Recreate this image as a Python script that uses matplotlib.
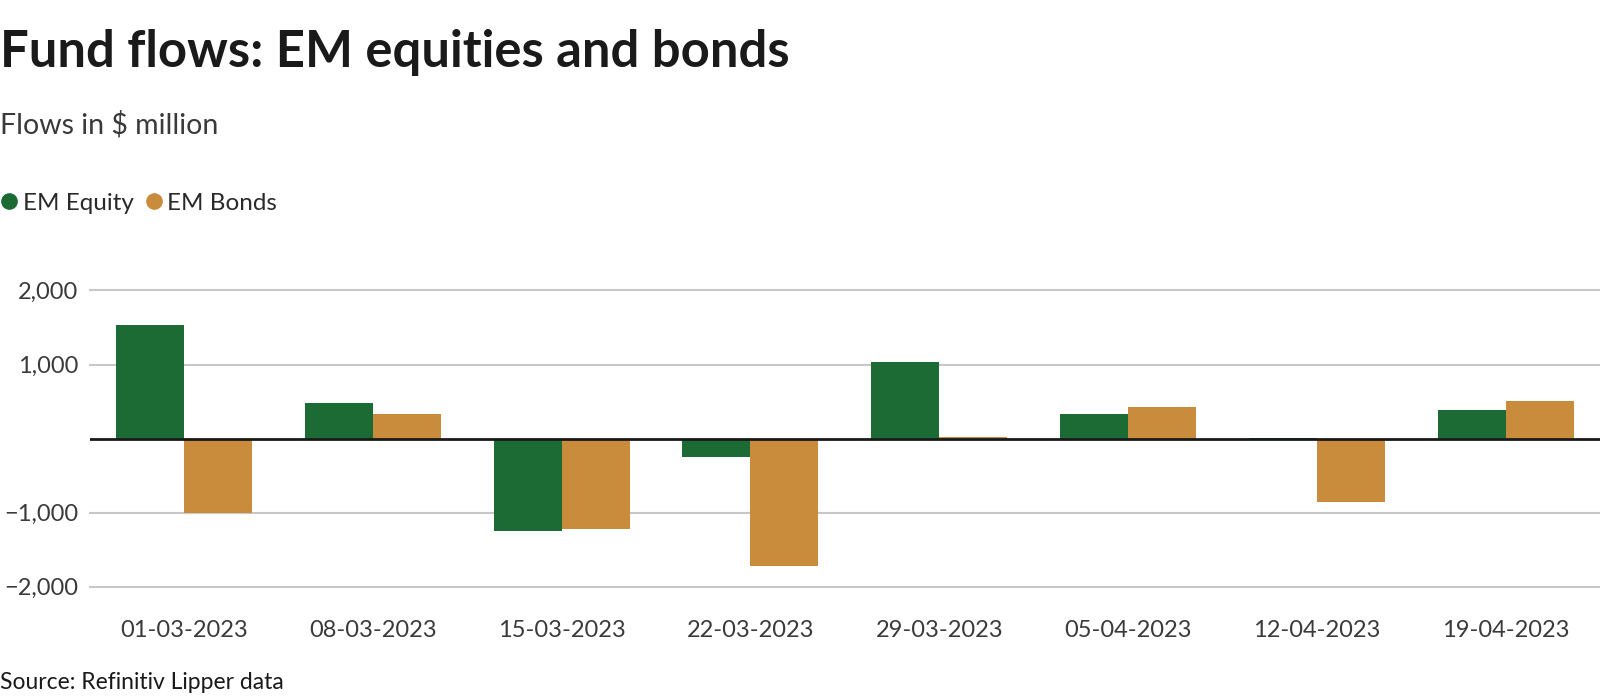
import numpy as np
import matplotlib.pyplot as plt
from matplotlib.lines import Line2D

dates = ["01-03-2023", "08-03-2023", "15-03-2023", "22-03-2023",
         "29-03-2023", "05-04-2023", "12-04-2023", "19-04-2023"]
em_equity = [1530, 485, -1248, -243, 1035, 325, 5, 382]
em_bonds = [-1000, 332, -1220, -1715, 22, 420, -852, 508]
yticks = [-2000, -1000, 1000, 2000]

green = "#1d6b34"
gold = "#c98c3c"

plt.rcParams['font.family'] = ['Lato', 'DejaVu Sans']

fig = plt.figure(figsize=(16, 7), dpi=100)
ax = fig.add_axes([0.056, 0.162, 0.944, 0.423])

x = np.arange(len(dates))
w = 0.36
ax.bar(x - w / 2, em_equity, w, color=green, zorder=3)
ax.bar(x + w / 2, em_bonds, w, color=gold, zorder=3)

ax.set_xlim(-0.5, len(dates) - 0.5)
ax.set_ylim(-2000, 2000)
ax.set_yticks(yticks)
ax.set_yticklabels([f"{v:,}".replace("-", "\u2212") for v in yticks])
ax.set_xticks(x)
ax.set_xticklabels(dates)
ax.tick_params(axis="both", length=0, labelsize=17, colors="#3a3a3a")
ax.tick_params(axis="x", pad=24)
ax.tick_params(axis="y", pad=8)

for v in yticks:
    ax.axhline(v, color="#c8c8c8", lw=1.5, zorder=1, clip_on=False)
ax.axhline(0, color="#1a1a1a", lw=2, zorder=4)
for s in ax.spines.values():
    s.set_visible(False)

fig.text(0.0, 0.925, "Fund flows: EM equities and bonds", fontsize=36.5,
         fontweight="bold", color="#1a1a1a", va="center")
fig.text(0.0, 0.822, "Flows in $ million", fontsize=20.5,
         color="#3a3a3a", va="center")

handles = [Line2D([], [], marker="o", ls="", color=green, markersize=11),
           Line2D([], [], marker="o", ls="", color=gold, markersize=11)]
fig.legend(handles, ["EM Equity", "EM Bonds"], loc="center left",
           bbox_to_anchor=(-0.014, 0.71), ncol=2, frameon=False,
           handlelength=0.8, handletextpad=0.15, columnspacing=0.45,
           prop={"size": 17.5}, labelcolor="#2a2a2a")

fig.text(0.0, 0.025, "Source: Refinitiv Lipper data", fontsize=16.5,
         color="#1a1a1a", va="center")

fig.savefig("out.png", dpi=100, facecolor="white")
